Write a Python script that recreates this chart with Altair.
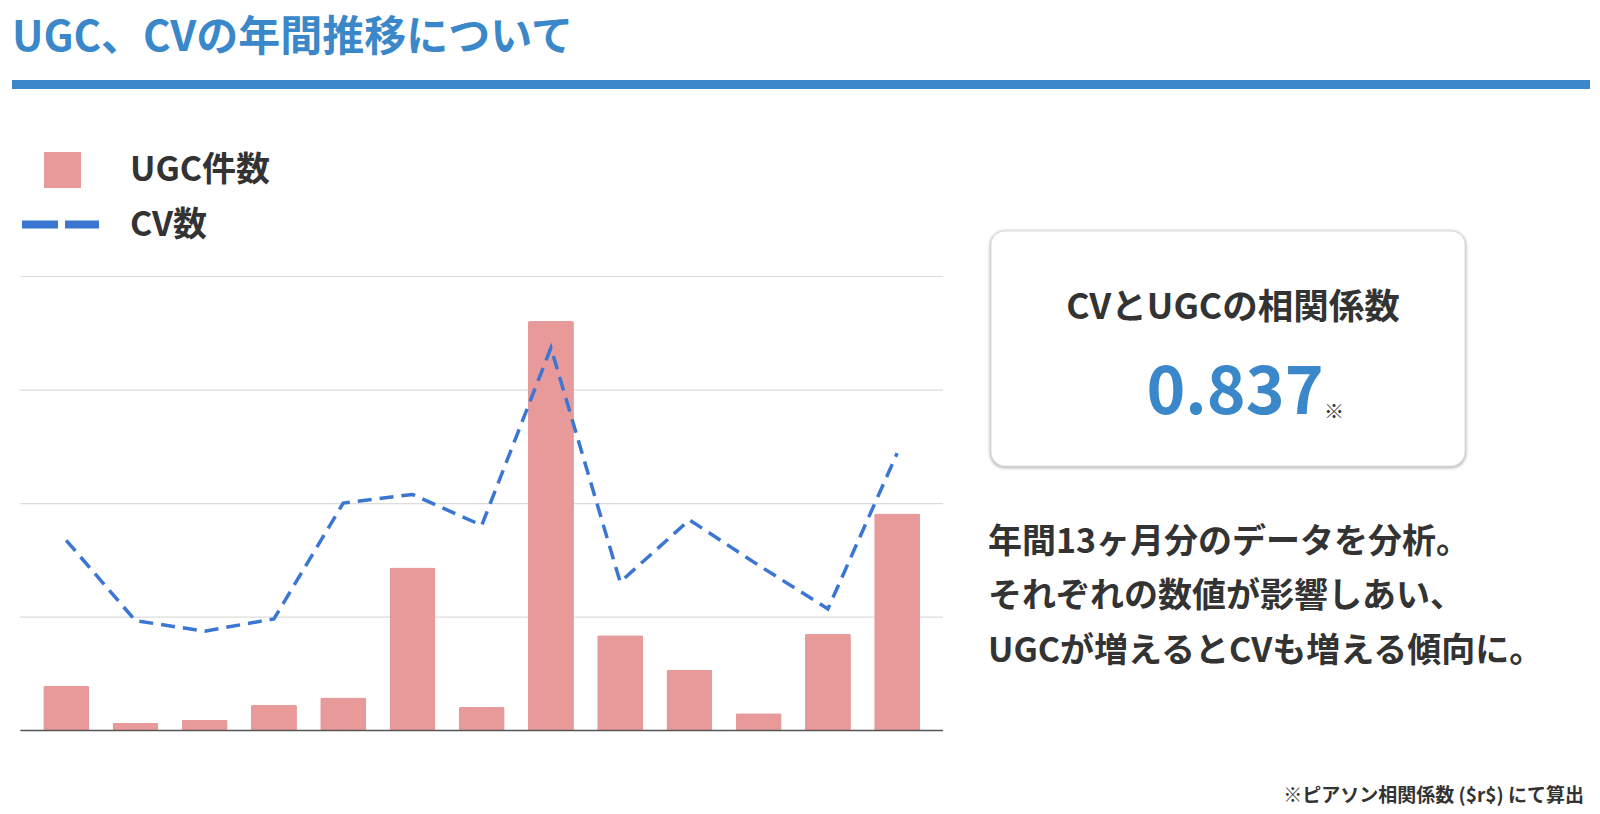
import altair as alt
import pandas as pd

# ---- data (normalised to the chart's 0-100 grid) ----
months = ["1", "2", "3", "4", "5", "6", "7", "8", "9", "10", "11", "12", "13"]
ugc_counts = [9.9, 1.7, 2.4, 5.7, 7.3, 35.9, 5.2, 90.2, 21.0, 13.4, 3.8, 21.3, 47.8]
cv_counts = [41.9, 24.2, 21.9, 24.6, 50.1, 52.0, 45.2, 84.3, 32.7, 46.4, 36.4, 26.8, 61.1]
grid_values = [25, 50, 75, 100]

title_text = "UGC、CVの年間推移について"
legend_labels = ["UGC件数", "CV数"]
card_title = "CVとUGCの相関係数"
corr_value = "0.837"
note_mark = "※"
body_lines = [
    "年間13ヶ月分のデータを分析。",
    "それぞれの数値が影響しあい、",
    "UGCが増えるとCVも増える傾向に。",
]
footnote = "※ピアソン相関係数 ($r$) にて算出"

FONT = "Noto Sans CJK JP"
BLUE = "#3a88c9"
LINE_BLUE = "#3a76d2"
PINK = "#e89a9a"
DARK = "#333333"

df = pd.DataFrame({"month": months, "ugc": ugc_counts, "cv": cv_counts})
grid_df = pd.DataFrame({"v": grid_values})
one = lambda s: pd.DataFrame({"t": [s]})

xscale = alt.Scale(domain=months, range=[12.4, 935], paddingInner=0.336, paddingOuter=0.33)
yscale = alt.Scale(domain=[0, 100], range=[722.6, 268.5])

X = alt.X("month:N", scale=xscale, axis=None, sort=months)

grid = alt.Chart(grid_df).mark_rule(color="#dcdcdc", strokeWidth=1.2).encode(
    y=alt.Y("v:Q", scale=yscale, axis=None),
    x=alt.value(12.4), x2=alt.value(935),
)
baseline = alt.Chart(one("0")).mark_rule(color="#555555", strokeWidth=1.5).encode(
    y=alt.value(722.6), x=alt.value(12.4), x2=alt.value(935),
)
bars = alt.Chart(df).mark_bar(color=PINK, cornerRadiusTopLeft=2, cornerRadiusTopRight=2).encode(
    x=X, y=alt.Y("ugc:Q", scale=yscale, axis=None),
)
line = alt.Chart(df).mark_line(color=LINE_BLUE, strokeWidth=3.5, strokeDash=[14, 8]).encode(
    x=X, y=alt.Y("cv:Q", scale=yscale, axis=None),
)

def txt(s, x, y, size, color=DARK, align="left", baseline="middle", weight="bold"):
    return alt.Chart(one(s)).mark_text(
        font=FONT, fontSize=size, fontWeight=weight, color=color,
        align=align, baseline=baseline,
    ).encode(text="t:N", x=alt.value(x), y=alt.value(y))

# header
title = txt(title_text, 4, 30, 42, color=BLUE)
header_rule = alt.Chart(one("r")).mark_rect(color=BLUE).encode(
    x=alt.value(4), x2=alt.value(1582), y=alt.value(72), y2=alt.value(81)
)

# legend
leg_square = alt.Chart(one("s")).mark_rect(color=PINK).encode(
    x=alt.value(36), x2=alt.value(73), y=alt.value(144), y2=alt.value(180)
)
leg_dash = alt.Chart(one("d")).mark_rule(color=LINE_BLUE, strokeWidth=8, strokeDash=[36, 7]).encode(
    x=alt.value(14), x2=alt.value(91), y=alt.value(216.5)
)
leg1 = txt(legend_labels[0], 122, 163, 34)
leg2 = txt(legend_labels[1], 122, 218, 34)

# card with soft shadow
shadows = []
for i, op in enumerate([0.10, 0.06, 0.035, 0.02]):
    d = i + 1
    shadows.append(
        alt.Chart(one("sh")).mark_rect(
            fill="#000000", fillOpacity=op, cornerRadius=14 + d
        ).encode(
            x=alt.value(983 - d), x2=alt.value(1457 + d),
            y=alt.value(223 - d + 1), y2=alt.value(458 + d + 1),
        )
    )
card = alt.Chart(one("c")).mark_rect(
    fill="white", stroke="#dedede", strokeWidth=1, cornerRadius=14
).encode(x=alt.value(983), x2=alt.value(1457), y=alt.value(223), y2=alt.value(458))
card_t = txt(card_title, 1225, 300, 35.5, align="center")
corr = txt(corr_value, 1227, 406, 66, color=BLUE, align="center", baseline="alphabetic")
corr_note = txt(note_mark, 1316, 411, 20, baseline="alphabetic")

body = [txt(s, 980, y, 34) for s, y in zip(body_lines, [535, 589, 644])]
foot = txt(footnote, 1576, 788, 19, align="right")

chart = alt.layer(
    grid, bars, line, baseline,
    title, header_rule, leg_square, leg_dash, leg1, leg2,
    *shadows, card, card_t, corr, corr_note, *body, foot,
).properties(
    width=1584, height=798,
    autosize=alt.AutoSizeParams(type="none"),
    padding=0,
    background="white",
).configure_view(stroke=None)

chart.save("out.html", embed_options={"renderer": "svg", "actions": False})
